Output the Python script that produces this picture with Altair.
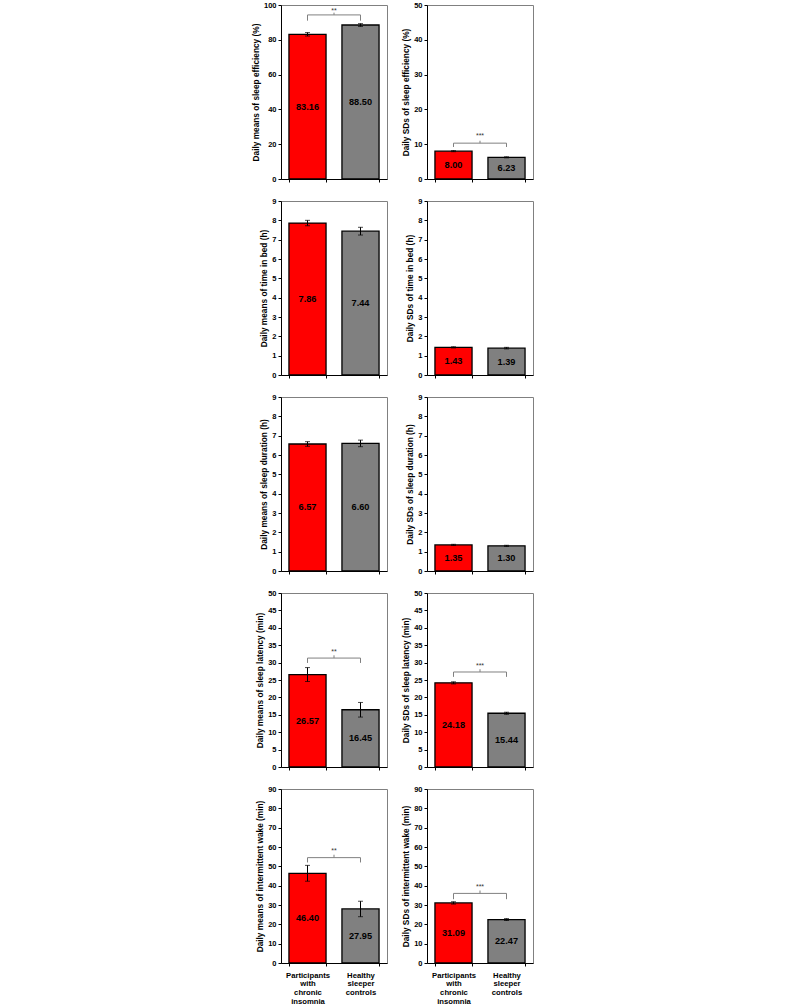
import altair as alt
import pandas as pd

FONT = "Liberation Sans"

groups = ["Participants with chronic insomnia", "Healthy sleeper controls"]
bar_colors = ["#FF0000", "#808080"]

mean_titles = [
    "Daily means of sleep efficiency (%)",
    "Daily means of time in bed (h)",
    "Daily means of sleep duration (h)",
    "Daily means of sleep latency (min)",
    "Daily means of intermittent wake (min)",
]
sd_titles = [
    "Daily SDs of sleep efficiency (%)",
    "Daily SDs of time in bed (h)",
    "Daily SDs of sleep duration (h)",
    "Daily SDs of sleep latency (min)",
    "Daily SDs of intermittent wake (min)",
]

means = [[83.16, 88.50], [7.86, 7.44], [6.57, 6.60], [26.57, 16.45], [46.40, 27.95]]
mean_err = [[1.0, 0.8], [0.14, 0.2], [0.12, 0.17], [2.0, 2.1], [4.1, 4.0]]
sds = [[8.00, 6.23], [1.43, 1.39], [1.35, 1.30], [24.18, 15.44], [31.09, 22.47]]
sd_err = [[0.15, 0.15], [0.03, 0.04], [0.03, 0.03], [0.3, 0.3], [0.6, 0.5]]

mean_ymax = [100, 9, 9, 50, 90]
mean_ystep = [20, 1, 1, 5, 10]
sd_ymax = [50, 9, 9, 50, 90]
sd_ystep = [10, 1, 1, 5, 10]

# significance brackets: stars, bracket line, leg end, peak, text position
mean_sig = [("**", 94.3, 91.0, 95.6, 96.3), None, None,
            ("**", 31.3, 29.9, 32.1, 33.0), ("**", 54.5, 52.0, 56.0, 57.8)]
sd_sig = [("***", 10.3, 9.2, 11.0, 12.4), None, None,
          ("***", 27.3, 25.9, 28.1, 29.0), ("***", 36.0, 33.0, 37.5, 39.3)]

W, H = 106, 174
PAD_IN, PAD_OUT = 0.3, 0.15
GAP_HALF = (W / 2) * PAD_IN / 2  # half of the gap between the two bars


def panel(title, vals, errs, ymax, ystep, sig, show_x):
    df = pd.DataFrame({
        "group": groups,
        "value": vals,
        "lo": [v - e for v, e in zip(vals, errs)],
        "hi": [v + e for v, e in zip(vals, errs)],
        "mid": [v / 2 for v in vals],
        "label": [f"{v:.2f}" for v in vals],
    })
    xscale = alt.Scale(domain=groups, paddingInner=PAD_IN, paddingOuter=PAD_OUT)
    xaxis = alt.Axis(
        title=None, labels=show_x, labelAngle=0,
        labelExpr="split(datum.label, ' ')",
        tickBand="extent", grid=False,
    )

    def X(field, **kw):
        return alt.X(f"{field}:N", scale=xscale, axis=xaxis, sort=groups, **kw)

    yscale = alt.Scale(domain=[0, ymax], nice=False, zero=True)
    yaxis = alt.Axis(title=title, values=list(range(0, ymax + 1, ystep)), format="d", grid=False)

    def Y(field):
        return alt.Y(f"{field}:Q", scale=yscale, axis=yaxis)

    base = alt.Chart(df)
    bars = base.mark_bar(stroke="black", strokeWidth=1.3).encode(
        x=X("group"), y=Y("value"),
        color=alt.Color("group:N", scale=alt.Scale(domain=groups, range=bar_colors), legend=None),
    )
    err = base.mark_rule(color="black", strokeWidth=1).encode(x=X("group"), y=Y("lo"), y2="hi:Q")
    cap_hi = base.mark_tick(color="black", size=5, thickness=1).encode(x=X("group"), y=Y("hi"))
    cap_lo = base.mark_tick(color="black", size=5, thickness=1).encode(x=X("group"), y=Y("lo"))
    labels = base.mark_text(font=FONT, fontWeight="bold", fontSize=9.2, color="black").encode(
        x=X("group"), y=Y("mid"), text="label:N")
    layers = [bars, err, cap_hi, cap_lo, labels]

    if sig is not None:
        stars, line, leg, peak, ty = sig
        sdf = pd.DataFrame({"g1": [groups[0]], "g2": [groups[1]], "line": [line],
                            "leg": [leg], "peak": [peak], "ty": [ty], "stars": [stars]})
        ldf = pd.DataFrame({"group": groups, "line": [line, line], "leg": [leg, leg]})
        sb = alt.Chart(sdf)
        hline = sb.mark_rule(color="#808080", strokeWidth=1).encode(
            x=X("g1"), x2="g2:N", y=Y("line"))
        legs = alt.Chart(ldf).mark_rule(color="#808080", strokeWidth=1).encode(
            x=X("group"), y=Y("leg"), y2="line:Q")
        pk = sb.mark_rule(color="#808080", strokeWidth=1, xOffset=GAP_HALF).encode(
            x=X("g1", bandPosition=1), y=Y("line"), y2="peak:Q")
        txt = sb.mark_text(font=FONT, fontSize=7, color="#333333", baseline="middle", dx=GAP_HALF).encode(
            x=X("g1", bandPosition=1), y=Y("ty"), text="stars:N")
        layers += [hline, legs, pk, txt]

    return alt.layer(*layers).properties(width=W, height=H)


panels = []
for i in range(5):
    last = i == 4
    panels.append(panel(mean_titles[i], means[i], mean_err[i], mean_ymax[i], mean_ystep[i], mean_sig[i], last))
    panels.append(panel(sd_titles[i], sds[i], sd_err[i], sd_ymax[i], sd_ystep[i], sd_sig[i], last))

chart = alt.concat(*panels, columns=2, spacing={"row": 22, "column": 40}, bounds="flush").properties(
    padding={"left": 250, "top": 0, "right": 5, "bottom": 0},
    background="white",
).configure_view(
    stroke="#808080", strokeWidth=1
).configure_axis(
    domainColor="black", domainWidth=1, tickColor="black", tickSize=3, grid=False,
    labelFont=FONT, labelFontWeight="bold", labelFontSize=7.5, labelColor="black", labelPadding=2,
    titleFont=FONT, titleFontWeight="bold", titleFontSize=8.3, titleColor="black", titlePadding=3,
).configure_axisX(
    labelFontSize=7.7, labelLineHeight=8.7, labelPadding=5,
)

chart.save("out.html", embed_options={"renderer": "svg", "actions": False})
